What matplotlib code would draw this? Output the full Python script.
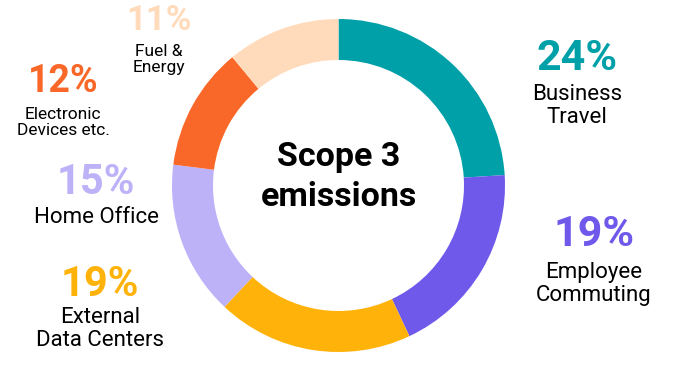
import matplotlib.pyplot as plt

# Scope 3 emission shares (clockwise from 12 o'clock)
categories = ["Business\nTravel", "Employee\nCommuting", "External\nData Centers",
              "Home Office", "Electronic\nDevices etc.", "Fuel &\nEnergy"]
shares = [24, 19, 19, 15, 12, 11]
colors = ["#00A0A8", "#6E59EB", "#FFB20A", "#BDB2F8", "#F96828", "#FFDBBB"]

W, H = 677, 371
fig = plt.figure(figsize=(W / 100, H / 100), dpi=100)
ax = fig.add_axes([0, 0, 1, 1])

cx, cy, r = 338.5, H - 185.5, 166.5
ax.pie(shares, colors=colors, startangle=90, counterclock=False,
       center=(cx, cy), radius=r, frame=True,
       wedgeprops=dict(width=41, linewidth=0))
ax.set_xlim(0, W)
ax.set_ylim(0, H)
ax.set_aspect("equal")
ax.axis("off")

font = "Roboto"
ax.text(cx, H - 177, "Scope 3\nemissions", ha="center", va="center",
        fontsize=24.5, fontweight="bold", family=font, linespacing=1.35)

# label layout: (x, pct y, label top y, pct size, label size)
layout = [
    (577, 59, 84, 31, 16),
    (594, 234, 262, 31, 16),
    (100, 284, 307, 30, 16),
    (96, 183, 207, 30, 16),
    (63, 82, 107, 27, 12.5),
    (159, 21, 44, 25, 12.5),
]
for (x, py, ly, ps, ls), cat, val, col in zip(layout, categories, shares, colors):
    ax.text(x, H - py, f"{val}%", ha="center", va="center", color=col,
            fontsize=ps, fontweight="bold", family=font)
    ax.text(x, H - ly, cat, ha="center", va="top", color="black",
            fontsize=ls, family=font, linespacing=1.12)

fig.savefig("out.png", dpi=100)
